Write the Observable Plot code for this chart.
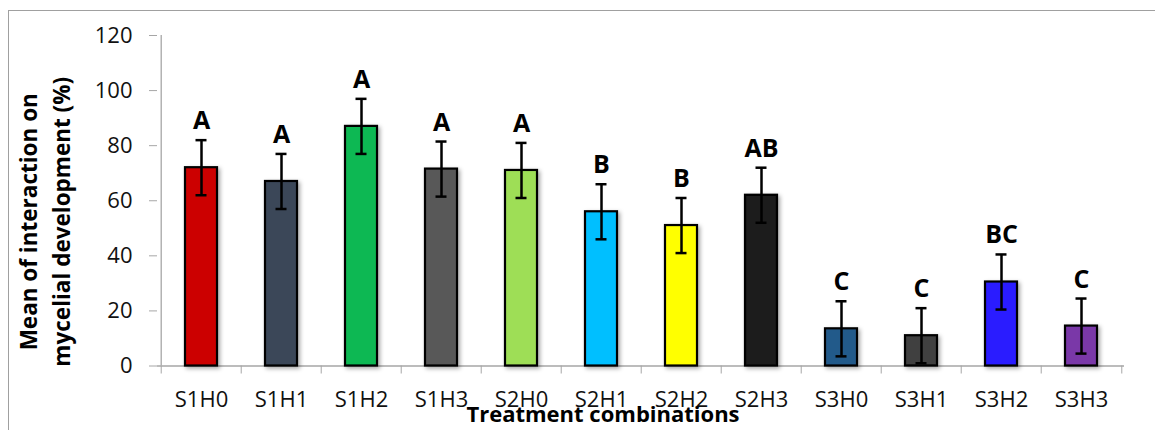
<!DOCTYPE html>
<html>
<head>
<meta charset="utf-8">
<script src="https://cdn.jsdelivr.net/npm/d3@7"></script>
<script src="https://cdn.jsdelivr.net/npm/@observablehq/plot@0.6"></script>
<style>
  html, body { margin: 0; padding: 0; background: #fff; }
  #wrap { position: relative; width: 1155px; height: 430px; overflow: hidden; }
  #border { position: absolute; left: 8px; top: 10px; width: 1200px; height: 500px;
            border-top: 1.5px solid #a0a0a0; border-left: 1.5px solid #a0a0a0; }
  #chart { position: absolute; left: 0; top: 0; }
</style>
</head>
<body>
<div id="wrap"><div id="border"></div><div id="chart"></div></div>
<script>
// Treatment combinations, mean interaction (%) with error, and significance letters
const treatments = ["S1H0", "S1H1", "S1H2", "S1H3", "S2H0", "S2H1", "S2H2", "S2H3", "S3H0", "S3H1", "S3H2", "S3H3"];
const means      = [72, 67, 87, 71.5, 71, 56, 51, 62, 13.5, 11, 30.5, 14.5];
const errors     = [10, 10, 10, 10, 10, 10, 10, 10, 10, 10, 10, 10];
const letters    = ["A", "A", "A", "A", "A", "B", "B", "AB", "C", "C", "BC", "C"];
const barColors  = ["#cc0000", "#3b4658", "#0bb853", "#595959", "#9ede56", "#00bfff",
                    "#ffff00", "#1c1c1c", "#245a8a", "#3f3f3f", "#2a1aff", "#7a37a8"];
const yTicks     = [0, 20, 40, 60, 80, 100, 120];

const rows = treatments.map((t, i) => ({
  trt: t, mean: means[i], lo: means[i] - errors[i], hi: means[i] + errors[i], letter: letters[i]
}));

const W = 1155, H = 430;
const mL = 157, mR = 31, mT = 35, mB = 64.5;
const step = (W - mL - mR) / treatments.length;
const font = "'Open Sans', sans-serif";
const axisGray = "#a6a6a6";

const chart = Plot.plot({
  width: W, height: H,
  marginLeft: mL, marginRight: mR, marginTop: mT, marginBottom: mB,
  style: { fontFamily: font, color: "#111", background: "transparent", overflow: "visible" },
  x: { domain: treatments, paddingInner: 0.6, paddingOuter: 0.3, axis: null },
  y: { domain: [0, 120], axis: null },
  color: { domain: treatments, range: barColors },
  marks: [
    // y axis: line, ticks and labels
    Plot.ruleX([treatments[0]], { y1: 0, y2: 120, dx: -step / 2, stroke: axisGray, strokeWidth: 1.3 }),
    Plot.axisY({ ticks: yTicks, tickSize: 8, tickPadding: 17, stroke: axisGray, fontSize: 22, label: null }),
    // x axis: baseline, boundary ticks and category labels
    Plot.ruleY([0], { stroke: axisGray, strokeWidth: 1.3 }),
    Plot.axisX({ tickSize: 8, tickFormat: () => "", dx: -step / 2, stroke: axisGray, label: null }),
    Plot.axisX({ ticks: [treatments[treatments.length - 1]], tickSize: 8, tickFormat: () => "", dx: step / 2, stroke: axisGray, label: null }),
    Plot.axisX({ tickSize: 0, tickPadding: 25, fontSize: 22, label: null }),
    // bars
    Plot.barY(rows, { x: "trt", y: "mean", fill: "trt", stroke: "#000", strokeWidth: 2.2 }),
    // error bars with caps
    Plot.ruleX(rows, { x: "trt", y1: "lo", y2: "hi", stroke: "#000", strokeWidth: 2.5 }),
    Plot.tickY(rows, { x: "trt", y: "lo", stroke: "#000", strokeWidth: 2.5, insetLeft: 10.5, insetRight: 10.5 }),
    Plot.tickY(rows, { x: "trt", y: "hi", stroke: "#000", strokeWidth: 2.5, insetLeft: 10.5, insetRight: 10.5 }),
    // significance letters
    Plot.text(rows, { x: "trt", y: "hi", text: "letter", lineAnchor: "bottom", dy: -11,
                      fontSize: 25, fontWeight: "bold", fill: "#000" }),
    // axis titles
    Plot.text(["Mean of interaction on\nmycelial development (%)"], {
      frameAnchor: "left", textAnchor: "middle", rotate: -90, dx: -115, dy: 21, lineHeight: 1.47,
      fontSize: 22.5, fontWeight: "bold", fill: "#000"
    }),
    Plot.text(["Treatment combinations"], {
      frameAnchor: "bottom", dx: -38, dy: 56, fontSize: 22, fontWeight: "bold", fill: "#000"
    })
  ]
});

// soft drop shadow behind the bars
const svg = d3.select(chart);
const defs = svg.insert("defs", ":first-child");
defs.append("filter").attr("id", "barShadow").attr("x", "-30%").attr("y", "-10%")
    .attr("width", "160%").attr("height", "130%")
  .append("feDropShadow").attr("dx", 2).attr("dy", 2).attr("stdDeviation", 2.2)
    .attr("flood-color", "#000").attr("flood-opacity", 0.35);
svg.selectAll("g[aria-label='bar']").attr("filter", "url(#barShadow)");

document.getElementById("chart").append(chart);
</script>
</body>
</html>
